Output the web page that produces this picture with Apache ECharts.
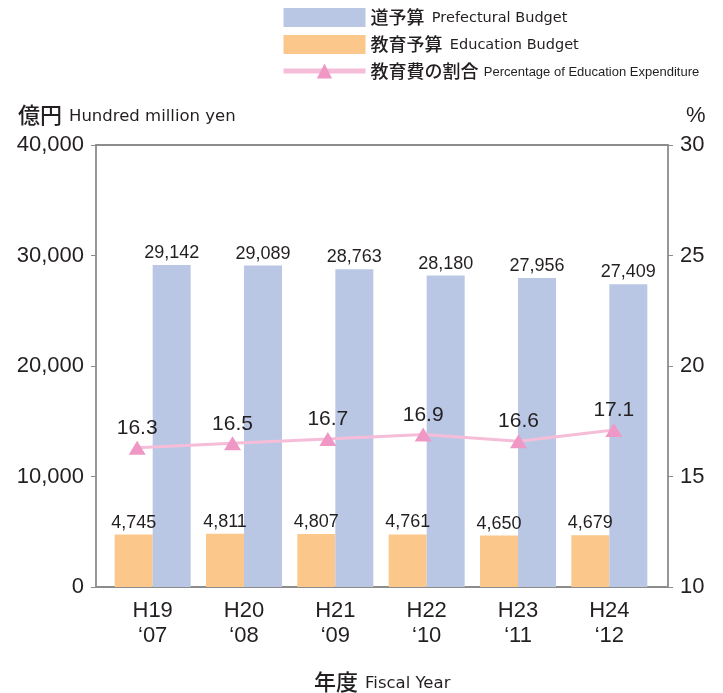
<!DOCTYPE html>
<html>
<head>
<meta charset="utf-8">
<script src="https://cdn.jsdelivr.net/npm/echarts@6/dist/echarts.min.js"></script>
<style>
  html, body { margin: 0; padding: 0; background: #fff; }
  #chart { width: 723px; height: 693px; }
</style>
</head>
<body>
<div id="chart"></div>
<script>
// data
const years = ['H19\n‘07', 'H20\n‘08', 'H21\n‘09', 'H22\n‘10', 'H23\n‘11', 'H24\n‘12']
const prefBudget = [29142, 29089, 28763, 28180, 27956, 27409]
const eduBudget = [4745, 4811, 4807, 4761, 4650, 4679]
const eduRatio = [16.3, 16.5, 16.7, 16.9, 16.6, 17.1]
const leftTicks = [0, 40000, 10000]   // min, max, interval
const rightTicks = [10, 30, 5]

const FONT = "'Liberation Sans', 'Noto Sans CJK JP', sans-serif"
const WIDE = "'DejaVu Sans', sans-serif"
const CJK = "'Noto Sans CJK JP', sans-serif"
const TXT = '#231f20'
const AXIS = '#8c8c8c'
const BLUE = '#b9c7e5'
const ORANGE = '#fbc78a'
const PINK_LINE = '#f6bdd9'
const PINK_MARK = '#ef98c5'

const nameEdu = '教育予算'
const namePref = '道予算'
const nameRatio = '教育費の割合'
const legendEn = {}
legendEn[namePref] = '{en|Prefectural Budget}'
legendEn[nameEdu] = '{en|Education Budget}'
legendEn[nameRatio] = '{en2|Percentage of Education Expenditure}'

const fmt = v => String(v).replace(/\B(?=(\d{3})+(?!\d))/g, ',')

const chart = echarts.init(document.getElementById('chart'))
chart.setOption({
  animation: false,
  textStyle: { fontFamily: FONT, color: TXT },
  title: [
    {
      text: '{cn|億円} {en|Hundred million yen}',
      left: 13, top: 99,
      textStyle: {
        fontWeight: 'normal',
        rich: {
          cn: { fontFamily: CJK, fontSize: 22, color: TXT, fontWeight: 500 },
          en: { fontFamily: WIDE, fontSize: 16.5, color: TXT, fontWeight: 'normal', padding: [3, 0, 0, 2] },
        },
      },
    },
    {
      text: '%',
      left: 681, top: 100,
      textStyle: { fontFamily: FONT, fontSize: 22, fontWeight: 'normal', color: TXT },
    },
    {
      text: '{cn|年度} {en|Fiscal Year}',
      left: 309, top: 666,
      textStyle: {
        fontWeight: 'normal',
        rich: {
          cn: { fontFamily: CJK, fontSize: 22, color: TXT, fontWeight: 500 },
          en: { fontFamily: WIDE, fontSize: 16.5, color: TXT, fontWeight: 'normal', padding: [3, 0, 0, 2] },
        },
      },
    },
  ],
  legend: {
    orient: 'vertical',
    left: 276, top: 3,
    itemWidth: 82,
    itemHeight: 19,
    itemGap: 8,
    data: [
      { name: namePref, icon: 'rect' },
      { name: nameEdu, icon: 'rect' },
      { name: nameRatio, lineStyle: { width: 5 } },
    ],
    formatter: name => '{cn|' + name + '} ' + legendEn[name],
    textStyle: {
      rich: {
        cn: { fontFamily: CJK, fontSize: 18, color: TXT, fontWeight: 500 },
        en: { fontFamily: WIDE, fontSize: 14.5, color: TXT, padding: [2, 0, 0, 4] },
        en2: { fontFamily: FONT, fontSize: 13, color: TXT, padding: [2, 0, 0, 2] },
      },
    },
  },
  grid: [
    // frame
    { left: 96, right: 55, top: 145, bottom: 106, show: true, borderColor: AXIS, borderWidth: 1.8, backgroundColor: 'transparent' },
    // bars
    { left: 107, right: 68, top: 145, bottom: 106 },
    // line
    { left: 89.5, right: 61.5, top: 145, bottom: 106 },
  ],
  xAxis: [
    {
      type: 'category', gridIndex: 1, data: years,
      axisLine: { show: false }, axisTick: { show: false },
      axisLabel: { fontSize: 22, lineHeight: 25, color: TXT, margin: 11 },
    },
    { type: 'category', gridIndex: 2, data: years, show: false },
  ],
  yAxis: [
    {
      type: 'value', gridIndex: 1, position: 'left', offset: 11,
      min: leftTicks[0], max: leftTicks[1], interval: leftTicks[2],
      splitLine: { show: false },
      axisLine: { show: false },
      axisTick: { show: true, length: 5, lineStyle: { color: AXIS } },
      axisLabel: { fontSize: 22, color: TXT, margin: 12, formatter: fmt },
    },
    {
      type: 'value', gridIndex: 2, position: 'right', offset: 6.5,
      min: rightTicks[0], max: rightTicks[1], interval: rightTicks[2],
      splitLine: { show: false },
      axisLine: { show: false },
      axisTick: { show: true, length: 5, lineStyle: { color: AXIS } },
      axisLabel: { fontSize: 22, color: TXT, margin: 12 },
    },
  ],
  series: [
    {
      name: nameEdu, type: 'bar', xAxisIndex: 0, yAxisIndex: 0,
      data: eduBudget, barWidth: 38, barGap: '0%',
      itemStyle: { color: ORANGE },
      label: { show: true, position: 'top', distance: 3, fontSize: 18, color: TXT, formatter: p => fmt(p.value) },
    },
    {
      name: namePref, type: 'bar', xAxisIndex: 0, yAxisIndex: 0,
      data: prefBudget, barWidth: 38, barGap: '0%',
      itemStyle: { color: BLUE },
      label: { show: true, position: 'top', distance: 3, fontSize: 18, color: TXT, formatter: p => fmt(p.value) },
    },
    {
      name: nameRatio, type: 'line', xAxisIndex: 1, yAxisIndex: 1,
      data: eduRatio, symbol: 'triangle', symbolSize: [17, 14],
      lineStyle: { color: PINK_LINE, width: 3 },
      itemStyle: { color: PINK_MARK },
      label: { show: true, position: 'top', distance: 2, fontSize: 21, color: TXT, formatter: p => p.value.toFixed(1) },
      z: 5,
    },
  ],
})
</script>
</body>
</html>
